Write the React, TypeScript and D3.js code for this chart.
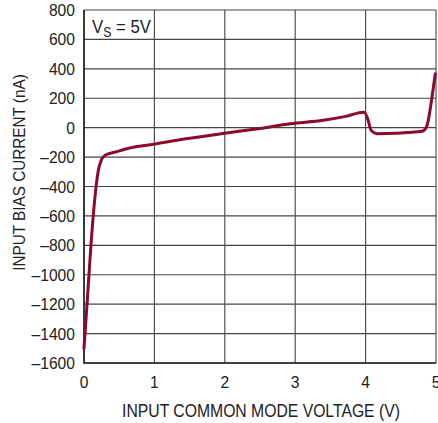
import * as React from "react";
import * as d3 from "d3";

// curve points (V, nA)
const voltage = [0, 0.05, 0.1, 0.15, 0.2, 0.25, 0.3, 0.45, 0.61, 1.0, 1.36, 2.0, 2.5, 2.93, 3.4, 3.7, 3.98, 4.03, 4.08, 4.16, 4.3, 4.6, 4.8, 4.86, 4.89, 4.95, 4.99];
const biasCurrent = [-1500, -1150, -790, -500, -300, -215, -188, -165, -143, -112, -82, -38, -5, 27, 50, 75, 104, 60, -20, -41, -40, -33, -25, 0, 50, 231, 367];

const xTicks = [0, 1, 2, 3, 4, 5];
const yTicks = [-1600, -1400, -1200, -1000, -800, -600, -400, -200, 0, 200, 400, 600, 800];

interface Pt {
  v: number;
  i: number;
}

const font = '"Liberation Sans", Arial, sans-serif';
const textColor = "#222";

// the reference uses a condensed face, so squeeze regular text horizontally
function addText(
  parent: d3.Selection<any, unknown, null, undefined>,
  x: number,
  y: number,
  size: number,
  sx: number,
  anchor: string,
  rotate = 0
) {
  return parent
    .append("text")
    .attr("transform", `translate(${x}, ${y}) rotate(${rotate}) scale(${sx}, 1)`)
    .attr("text-anchor", anchor)
    .attr("font-family", font)
    .attr("font-size", size)
    .attr("fill", textColor);
}

function drawChart(svgRef: React.RefObject<SVGSVGElement>) {
  const svg = d3.select(svgRef.current);
  svg.selectAll("*").remove();

  const width = 438;
  const height = 423;
  const left = 84;
  const right = 436;
  const top = 10;
  const bottom = 363;
  const gridColor = "#444";
  const curveColor = "#8c0a2c";

  svg.attr("width", width).attr("height", height);

  const x = d3.scaleLinear().domain([0, 5]).range([left, right]);
  const y = d3.scaleLinear().domain([-1600, 800]).range([bottom, top]);

  // grid
  const grid = svg.append("g").attr("stroke", gridColor).attr("stroke-width", 1.1);
  grid
    .selectAll("line.v")
    .data(xTicks)
    .enter()
    .append("line")
    .attr("x1", (d) => x(d))
    .attr("x2", (d) => x(d))
    .attr("y1", top)
    .attr("y2", bottom);
  grid
    .selectAll("line.h")
    .data(yTicks)
    .enter()
    .append("line")
    .attr("x1", left)
    .attr("x2", right)
    .attr("y1", (d) => y(d))
    .attr("y2", (d) => y(d));

  // border axes a bit heavier
  svg
    .append("path")
    .attr("d", `M${left},${top}V${bottom}H${right}`)
    .attr("fill", "none")
    .attr("stroke", "#222")
    .attr("stroke-width", 1.6);

  // tick labels
  const g = svg.append("g");
  yTicks.forEach((d) => {
    addText(g, left - 9, y(d) + 6, 17, 0.92, "end").text(
      d < 0 ? "\u2013" + Math.abs(d) : String(d)
    );
  });
  xTicks.forEach((d) => {
    addText(g, x(d), bottom + 25, 17, 0.92, "middle").text(String(d));
  });

  // axis titles
  addText(g, 261, 416.5, 17.5, 0.9, "middle").text("INPUT COMMON MODE VOLTAGE (V)");
  addText(g, 25, 172.5, 17, 0.9, "middle", -90).text("INPUT BIAS CURRENT (nA)");

  // annotation
  const note = addText(g, 92, 32.5, 19, 0.88, "start");
  note.append("tspan").text("V");
  note.append("tspan").attr("font-size", 14).attr("dy", 4).text("S");
  note.append("tspan").attr("dy", -4).text(" = 5V");

  // curve
  const pts: Pt[] = voltage.map((v, k) => ({ v, i: biasCurrent[k] }));
  const line = d3
    .line<Pt>()
    .x((d) => x(d.v))
    .y((d) => y(d.i))
    .curve(d3.curveMonotoneX);

  svg
    .append("path")
    .attr("d", line(pts))
    .attr("fill", "none")
    .attr("stroke", curveColor)
    .attr("stroke-width", 3)
    .attr("stroke-linejoin", "round")
    .attr("stroke-linecap", "round");
}

export default function App() {
  const svg = React.useRef<SVGSVGElement>(null);
  React.useEffect(() => {
    drawChart(svg);
  }, [svg]);

  return (
    <svg
      ref={svg}
      style={{ position: "absolute", left: 0, top: 0, background: "#fff" }}
    />
  );
}
